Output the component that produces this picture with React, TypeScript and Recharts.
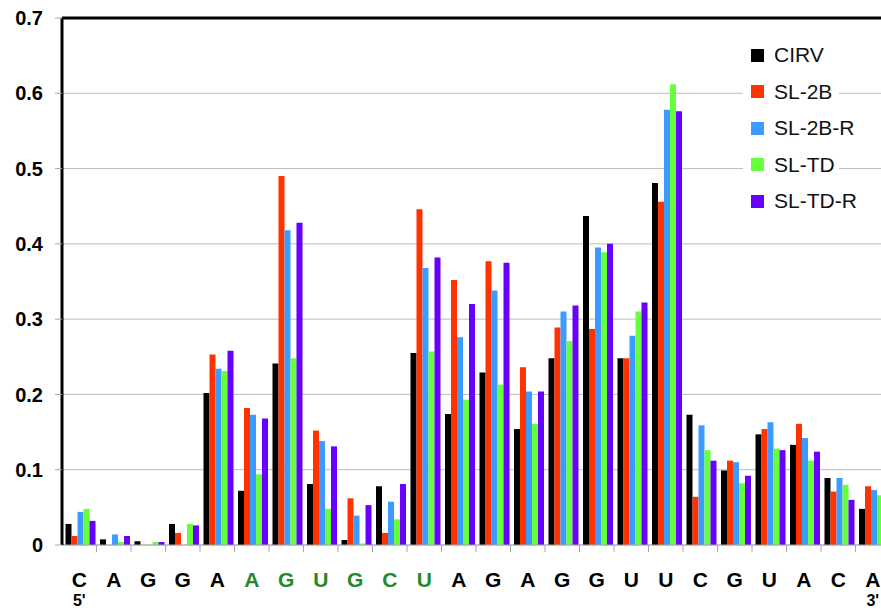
import React from 'react';
import { BarChart, Bar, XAxis, YAxis, CartesianGrid, Legend, ReferenceLine } from 'recharts';

const BASES = ['C', 'A', 'G', 'G', 'A', 'A', 'G', 'U', 'G', 'C', 'U', 'A', 'G', 'A', 'G', 'G', 'U', 'U', 'C', 'G', 'U', 'A', 'C', 'A'];
// indices of the loop bases printed in green
const GREEN_BASES = [5, 6, 7, 8, 9, 10];

const CIRV = [0.028, 0.0075, 0.005, 0.028, 0.202, 0.072, 0.241, 0.081, 0.0066, 0.078, 0.255, 0.174, 0.229, 0.154, 0.248, 0.437, 0.248, 0.481, 0.173, 0.099, 0.147, 0.133, 0.089, 0.048];
const SL_2B = [0.012, -0.003, 0, 0.016, 0.253, 0.182, 0.49, 0.152, 0.062, 0.016, 0.446, 0.352, 0.377, 0.236, 0.289, 0.287, 0.248, 0.456, 0.064, 0.112, 0.154, 0.161, 0.071, 0.078];
const SL_2B_R = [0.044, 0.014, 0, 0, 0.234, 0.173, 0.418, 0.138, 0.039, 0.0575, 0.368, 0.276, 0.338, 0.204, 0.31, 0.395, 0.278, 0.578, 0.159, 0.11, 0.163, 0.142, 0.089, 0.073];
const SL_TD = [0.048, 0.004, 0.004, 0.028, 0.231, 0.094, 0.248, 0.048, 0.002, 0.034, 0.257, 0.193, 0.213, 0.161, 0.271, 0.389, 0.31, 0.612, 0.126, 0.082, 0.128, 0.112, 0.08, 0.066];
const SL_TD_R = [0.032, 0.012, 0.004, 0.026, 0.258, 0.168, 0.428, 0.131, 0.053, 0.081, 0.382, 0.32, 0.375, 0.204, 0.318, 0.4, 0.322, 0.576, 0.112, 0.092, 0.126, 0.124, 0.06, 0.046];

const Y_TICKS = [0, 0.1, 0.2, 0.3, 0.4, 0.5, 0.6, 0.7];

const SERIES = [
  { key: 'CIRV', color: '#000000', values: CIRV },
  { key: 'SL-2B', color: '#ff3300', values: SL_2B },
  { key: 'SL-2B-R', color: '#3c9bff', values: SL_2B_R },
  { key: 'SL-TD', color: '#66ff3c', values: SL_TD },
  { key: 'SL-TD-R', color: '#6600ff', values: SL_TD_R },
];

const data = BASES.map((b, i) => {
  const row: Record<string, number | string> = { idx: i, base: b };
  SERIES.forEach((s) => { row[s.key] = s.values[i]; });
  return row;
});

const FONT = '"Liberation Sans", Arial, sans-serif';
const BAND = 828 / BASES.length;

function BaseTick(props: any) {
  const { x, y, payload } = props;
  const i = payload.value as number;
  const green = GREEN_BASES.includes(i);
  const end = i === 0 ? "5'" : i === BASES.length - 1 ? "3'" : null;
  return (
    <g>
      {i > 0 && <line x1={x - BAND / 2} x2={x - BAND / 2} y1={y} y2={y + 7} stroke="#a8a8a8" />}
      <text x={x} y={y + 42} textAnchor="middle" fontFamily={FONT} fontWeight="bold" fontSize={21} fill={green ? '#23892a' : '#000'}>
        {BASES[i]}
      </text>
      {end && (
        <text x={x} y={y + 61} textAnchor="middle" fontFamily={FONT} fontWeight="bold" fontSize={16} fill="#000">
          {end}
        </text>
      )}
    </g>
  );
}

function LegendBox({ payload }: any) {
  return (
    <div style={{ background: '#fff', width: 96, height: 190, paddingTop: 5, boxSizing: 'border-box', fontFamily: FONT }}>
      {(payload || []).map((p: any) => (
        <div key={p.value} style={{ height: 36.5, display: 'flex', alignItems: 'center', whiteSpace: 'nowrap' }}>
          <span style={{ width: 13, height: 13, flexShrink: 0, background: p.color, marginLeft: 8, marginRight: 10, display: 'inline-block' }} />
          <span style={{ fontSize: 21, color: '#111' }}>{p.value}</span>
        </div>
      ))}
    </div>
  );
}

export default function App() {
  return (
    <div style={{ position: 'fixed', left: 0, top: 0, width: 881, height: 614, overflow: 'hidden', background: '#fff' }}>
      <BarChart
        width={900}
        height={614}
        data={data}
        margin={{ top: 18, right: 10, bottom: 9, left: 0 }}
        barCategoryGap={3.5}
        barGap={0}
      >
        <CartesianGrid vertical={false} stroke="#bdbdbd" />
        <XAxis
          dataKey="idx"
          height={60}
          tickSize={0}
          tickMargin={0}
          tickLine={false}
          interval={0}
          stroke="#a8a8a8"
          tick={<BaseTick />}
        />
        <YAxis
          width={62}
          domain={[0, 0.7]}
          ticks={Y_TICKS}
          allowDataOverflow
          interval={0}
          tickSize={7}
          tickMargin={12}
          tickFormatter={(v: number) => (v === 0 ? '0' : v.toFixed(1))}
          tick={{ fill: '#000', fontSize: 20, fontWeight: 'bold', fontFamily: FONT }}
          tickLine={{ stroke: '#a8a8a8' }}
          axisLine={{ stroke: '#000', strokeWidth: 3 }}
        />
        <ReferenceLine y={0.7} stroke="#000" strokeWidth={3} />
        <Legend
          layout="vertical"
          align="center"
          verticalAlign="middle"
          content={<LegendBox />}
          wrapperStyle={{ left: 743, top: 32, width: 96, height: 190 }}
        />
        {SERIES.map((s) => (
          <Bar key={s.key} dataKey={s.key} name={s.key} fill={s.color} isAnimationActive={false} />
        ))}
      </BarChart>
    </div>
  );
}
